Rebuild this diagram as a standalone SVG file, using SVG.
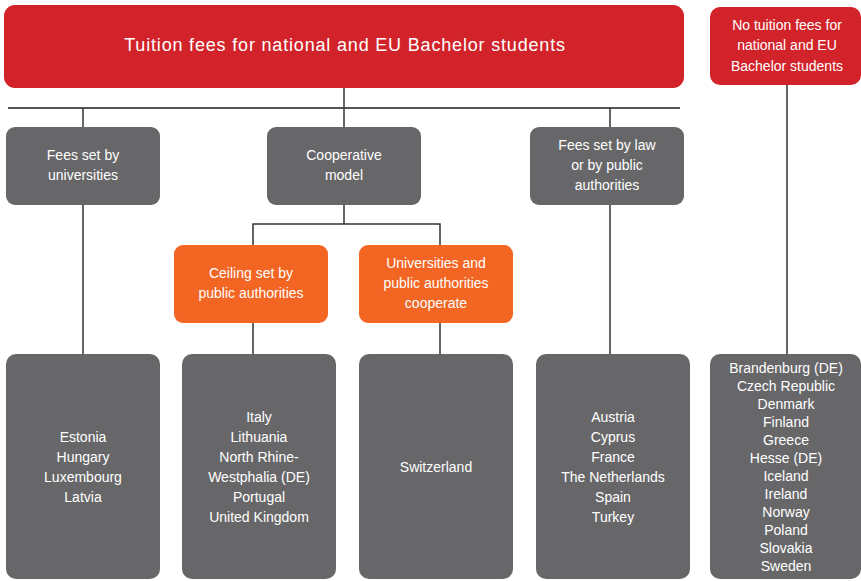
<svg xmlns="http://www.w3.org/2000/svg" width="861" height="581" viewBox="0 0 861 581">
<style>
.red{fill:#D2232A}
.gray{fill:#676769}
.orange{fill:#F26522}
text{font-family:"Liberation Sans",Arial,sans-serif;fill:#fff;text-anchor:middle;font-size:14px}
.title{font-size:18px;letter-spacing:0.82px}
.ln{stroke:#333;stroke-width:1.5;fill:none}
.hl{stroke:#555;stroke-width:2;fill:none}
</style>
<rect width="861" height="581" fill="#fff"/>
<g id="connectors">
<line class="ln" x1="344" y1="88" x2="344" y2="108"/>
<line class="hl" x1="8" y1="108" x2="680" y2="108"/>
<line class="ln" x1="83" y1="108" x2="83" y2="354"/>
<line class="ln" x1="344" y1="108" x2="344" y2="224"/>
<line class="ln" x1="610" y1="108" x2="610" y2="354"/>
<polyline class="ln" points="253,245 253,224 440,224 440,245"/>
<line class="ln" x1="253" y1="322" x2="253" y2="354"/>
<line class="ln" x1="440" y1="322" x2="440" y2="354"/>
<line class="ln" x1="787" y1="85" x2="787" y2="354"/>
</g>
<g id="top">
<rect class="red" x="4" y="5" width="680" height="83" rx="11"/>
<text class="title" x="345" y="51">Tuition fees for national and EU Bachelor students</text>
</g>
<g id="nofees">
<rect class="red" x="710" y="7" width="151" height="78" rx="10"/>
<text x="787" y="30">No tuition fees for</text>
<text x="787" y="50">national and EU</text>
<text x="787" y="71">Bachelor students</text>
</g>
<g id="univ">
<rect class="gray" x="6" y="127" width="154" height="78" rx="9"/>
<text x="83" y="160">Fees set by</text>
<text x="83" y="180">universities</text>
</g>
<g id="coop">
<rect class="gray" x="267" y="127" width="154" height="78" rx="9"/>
<text x="344" y="160">Cooperative</text>
<text x="344" y="180">model</text>
</g>
<g id="law">
<rect class="gray" x="530" y="127" width="154" height="78" rx="9"/>
<text x="607" y="150">Fees set by law</text>
<text x="607" y="170">or by public</text>
<text x="607" y="190">authorities</text>
</g>
<g id="ceiling">
<rect class="orange" x="174" y="245" width="154" height="78" rx="9"/>
<text x="251" y="278">Ceiling set by</text>
<text x="251" y="298">public authorities</text>
</g>
<g id="cooperate">
<rect class="orange" x="359" y="245" width="154" height="78" rx="9"/>
<text x="436" y="268">Universities and</text>
<text x="436" y="288">public authorities</text>
<text x="436" y="308">cooperate</text>
</g>
<g id="list1">
<rect class="gray" x="6" y="354" width="154" height="225" rx="10"/>
<text x="83" y="442">Estonia</text>
<text x="83" y="462">Hungary</text>
<text x="83" y="482">Luxembourg</text>
<text x="83" y="502">Latvia</text>
</g>
<g id="list2">
<rect class="gray" x="182" y="354" width="154" height="225" rx="10"/>
<text x="259" y="422">Italy</text>
<text x="259" y="442">Lithuania</text>
<text x="259" y="462">North Rhine-</text>
<text x="259" y="482">Westphalia (DE)</text>
<text x="259" y="502">Portugal</text>
<text x="259" y="522">United Kingdom</text>
</g>
<g id="list3">
<rect class="gray" x="359" y="354" width="154" height="225" rx="10"/>
<text x="436" y="472">Switzerland</text>
</g>
<g id="list4">
<rect class="gray" x="536" y="354" width="154" height="225" rx="10"/>
<text x="613" y="422">Austria</text>
<text x="613" y="442">Cyprus</text>
<text x="613" y="462">France</text>
<text x="613" y="482">The Netherlands</text>
<text x="613" y="502">Spain</text>
<text x="613" y="522">Turkey</text>
</g>
<g id="list5">
<rect class="gray" x="710" y="354" width="151" height="225" rx="10"/>
<text x="786" y="373">Brandenburg (DE)</text>
<text x="786" y="391">Czech Republic</text>
<text x="786" y="409">Denmark</text>
<text x="786" y="427">Finland</text>
<text x="786" y="445">Greece</text>
<text x="786" y="463">Hesse (DE)</text>
<text x="786" y="481">Iceland</text>
<text x="786" y="499">Ireland</text>
<text x="786" y="517">Norway</text>
<text x="786" y="535">Poland</text>
<text x="786" y="553">Slovakia</text>
<text x="786" y="571">Sweden</text>
</g>
</svg>
